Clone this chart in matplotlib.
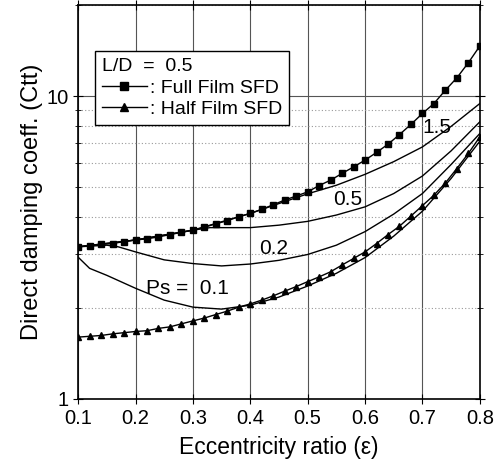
import matplotlib
matplotlib.use("Agg")
import matplotlib.pyplot as plt
import numpy as np
from matplotlib.ticker import LogLocator, NullFormatter, FixedLocator, FixedFormatter

plt.rcParams['font.family'] = ['Liberation Sans', 'DejaVu Sans']

# marker curves (every 0.02)
ecc = np.round(np.arange(0.10, 0.801, 0.02), 2)
full_film = [3.18, 3.21, 3.24, 3.26, 3.31, 3.35, 3.38, 3.43, 3.49, 3.55,
             3.61, 3.69, 3.79, 3.88, 4.00, 4.10, 4.23, 4.38, 4.54, 4.68,
             4.83, 5.07, 5.28, 5.56, 5.84, 6.15, 6.52, 6.94, 7.47, 8.07,
             8.77, 9.46, 10.47, 11.5, 12.9, 14.65]
half_film = [1.60, 1.61, 1.62, 1.64, 1.655, 1.67, 1.68, 1.71, 1.73, 1.77,
             1.81, 1.85, 1.90, 1.95, 2.01, 2.06, 2.12, 2.19, 2.27, 2.35,
             2.44, 2.53, 2.63, 2.77, 2.91, 3.06, 3.26, 3.49, 3.72, 4.02,
             4.35, 4.71, 5.17, 5.77, 6.47, 7.34]

# supply pressure curves
ps15_x = [0.10, 0.2, 0.3, 0.4, 0.45, 0.5, 0.55, 0.6, 0.65, 0.7, 0.75, 0.8]
ps15_y = [3.18, 3.35, 3.61, 4.10, 4.42, 4.76, 5.08, 5.52, 6.08, 6.80, 7.95, 9.46]
ps05_x = [0.10, 0.2, 0.3, 0.33, 0.4, 0.45, 0.5, 0.55, 0.6, 0.65, 0.7, 0.75, 0.8]
ps05_y = [3.18, 3.35, 3.61, 3.68, 3.68, 3.75, 3.86, 4.05, 4.31, 4.77, 5.45, 6.60, 8.23]
ps02_x = [0.10, 0.15, 0.17, 0.2, 0.25, 0.3, 0.35, 0.4, 0.45, 0.5, 0.55, 0.6, 0.65, 0.7, 0.75, 0.8]
ps02_y = [3.18, 3.22, 3.18, 3.06, 2.88, 2.80, 2.75, 2.79, 2.87, 3.00, 3.22, 3.57, 4.08, 4.77, 5.95, 7.53]
ps01_x = [0.10, 0.12, 0.15, 0.2, 0.25, 0.3, 0.35, 0.4, 0.45, 0.5, 0.55, 0.6, 0.65, 0.7, 0.75, 0.8]
ps01_y = [2.94, 2.70, 2.56, 2.32, 2.12, 2.01, 1.98, 2.04, 2.17, 2.36, 2.60, 2.93, 3.45, 4.17, 5.35, 7.10]

curve_labels = ["1.5", "0.5", "0.2", "Ps =  0.1"]
label_pos = [(0.725, 7.9), (0.57, 4.55), (0.44, 3.15), (0.29, 2.32)]

fig = plt.figure(figsize=(5.04, 4.66), dpi=100)
ax = fig.add_axes([0.155, 0.144, 0.797, 0.845])

ax.set_yscale('log')
ax.set_xlim(0.1, 0.8)
ax.set_ylim(1, 20)

# grid
ax.xaxis.set_major_locator(FixedLocator(np.round(np.arange(0.1, 0.81, 0.1), 1)))
ax.yaxis.set_major_locator(FixedLocator([1, 10]))
ax.yaxis.set_major_formatter(FixedFormatter(['1', '10']))
ax.yaxis.set_minor_locator(LogLocator(base=10, subs=np.arange(2, 10)))
ax.yaxis.set_minor_formatter(NullFormatter())
ax.grid(True, which='major', color='#555555', lw=0.8)
ax.grid(True, which='minor', axis='y', color='#999999', lw=0.8, ls=(0, (1, 2)))

for xs, ys in [(ps15_x, ps15_y), (ps05_x, ps05_y), (ps02_x, ps02_y), (ps01_x, ps01_y)]:
    ax.plot(xs, ys, color='black', lw=1.0)

ax.plot(ecc, full_film, color='black', lw=1.0, marker='s', ms=4,
        label=': Full Film SFD')
ax.plot(ecc, half_film, color='black', lw=1.0, marker='^', ms=4.5,
        label=': Half Film SFD')

for txt, (x, y) in zip(curve_labels, label_pos):
    ax.text(x, y, txt, fontsize=15, ha='center', va='center')

leg = ax.legend(loc='upper left', bbox_to_anchor=(0.042, 0.883), title='L/D  =  0.5',
                fontsize=14, title_fontsize=14, frameon=True, fancybox=False,
                edgecolor='black', framealpha=1, handlelength=2.3,
                handletextpad=0.2, borderpad=0.35, labelspacing=0.2,
                borderaxespad=0)
leg._legend_box.align = 'left'
leg.get_frame().set_linewidth(1.0)
for h in leg.legend_handles:
    h.set_markersize(6)

ax.tick_params(which='both', direction='inout', top=True, right=True, labelsize=14.5)
ax.tick_params(which='major', length=7)
ax.tick_params(which='minor', length=5)
for s in ax.spines.values():
    s.set_linewidth(1.2)

ax.set_xlabel('Eccentricity ratio (ε)', fontsize=16.5, labelpad=6)
ax.set_ylabel('Direct damping coeff. (Ctt)', fontsize=17, labelpad=2)

fig.savefig('out.png', dpi=100)
